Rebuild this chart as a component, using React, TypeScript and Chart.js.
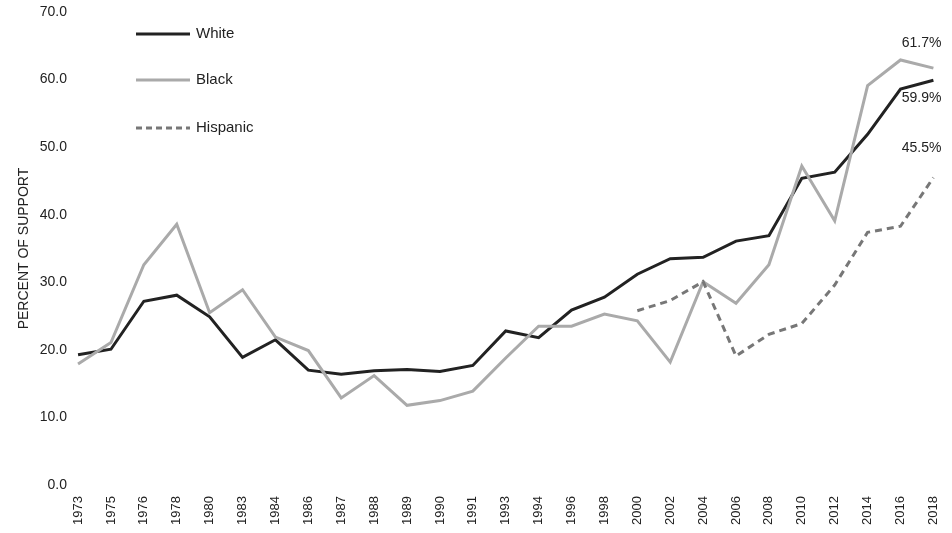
import React, { useEffect, useRef } from "react";
import { Chart, registerables } from "chart.js";
Chart.register(...registerables);

const years = ["1973","1975","1976","1978","1980","1983","1984","1986","1987","1988","1989","1990","1991","1993","1994","1996","1998","2000","2002","2004","2006","2008","2010","2012","2014","2016","2018"];
const white = [19.3,20.1,27.2,28.1,24.9,18.9,21.5,17.0,16.4,16.9,17.1,16.8,17.7,22.8,21.8,25.9,27.8,31.2,33.5,33.7,36.1,36.9,45.4,46.3,51.9,58.6,59.9];
const black = [17.9,21.1,32.6,38.6,25.5,28.9,21.9,19.9,12.9,16.2,11.8,12.5,13.9,18.8,23.5,23.5,25.3,24.3,18.2,30.1,26.9,32.6,47.2,39.1,59.1,62.9,61.7];
const hispanic = [null,null,null,null,null,null,null,null,null,null,null,null,null,null,null,null,null,25.8,27.3,30.1,19.1,22.3,23.9,29.6,37.4,38.3,45.5];
const endLabels = ["59.9%", "61.7%", "45.5%"];
const FONT = "'Liberation Sans', Arial, sans-serif";

export default function App() {
  const ref = useRef<HTMLCanvasElement>(null);
  useEffect(() => {
    const overlay = {
      id: "overlay",
      afterDraw(chart: any) {
        const ctx = chart.ctx;
        ctx.save();
        ctx.font = `15px ${FONT}`;
        ctx.fillStyle = "#222";
        ctx.textBaseline = "middle";
        const items = [
          { t: "White", c: "#222", d: [] as number[], y: 34 },
          { t: "Black", c: "#aaa", d: [] as number[], y: 80 },
          { t: "Hispanic", c: "#777", d: [6, 4], y: 128 },
        ];
        items.forEach((it) => {
          ctx.strokeStyle = it.c; ctx.lineWidth = 3; ctx.setLineDash(it.d);
          ctx.beginPath(); ctx.moveTo(136, it.y); ctx.lineTo(190, it.y); ctx.stroke();
          ctx.setLineDash([]);
          ctx.fillText(it.t, 196, it.y);
        });
        ctx.font = `14px ${FONT}`;
        ctx.textAlign = "right";
        const last = years.length - 1;
        const x = chart.scales.x.getPixelForValue(last) + 8;
        const ys = chart.scales.y;
        ctx.fillText(endLabels[0], x, ys.getPixelForValue(white[last]) + 18);
        ctx.fillText(endLabels[1], x, ys.getPixelForValue(black[last]) - 25);
        ctx.fillText(endLabels[2], x, ys.getPixelForValue(hispanic[last] as number) - 29);
        ctx.restore();
      },
    };
    const c = new Chart(ref.current!, {
      type: "line",
      data: {
        labels: years,
        datasets: [
          { label: "Hispanic", data: hispanic, borderColor: "#777", borderWidth: 3, borderDash: [7, 5], pointRadius: 0, tension: 0 },
          { label: "Black", data: black, borderColor: "#aaa", borderWidth: 3, pointRadius: 0, tension: 0 },
          { label: "White", data: white, borderColor: "#222", borderWidth: 3, pointRadius: 0, tension: 0 },
        ],
      },
      options: {
        animation: false,
        responsive: false,
        layout: { padding: { left: 12, right: 6, top: 12, bottom: 5 } },
        plugins: { legend: { display: false }, tooltip: { enabled: false } },
        scales: {
          x: {
            offset: false,
            grid: { display: false },
            border: { display: false },
            ticks: { color: "#222", font: { family: FONT, size: 13 }, maxRotation: 90, minRotation: 90, autoSkip: false },
          },
          y: {
            min: 0, max: 70,
            grid: { display: false },
            border: { display: false },
            ticks: { stepSize: 10, color: "#222", font: { family: FONT, size: 14 }, callback: (v: any) => Number(v).toFixed(1) },
            title: { display: true, text: "PERCENT OF SUPPORT", color: "#222", font: { family: FONT, size: 14 } },
          },
        },
      },
      plugins: [overlay],
    });
    return () => c.destroy();
  }, []);
  return (
    <div style={{ position: "fixed", left: 0, top: 0, width: 952, height: 533, background: "#fff" }}>
      <canvas ref={ref} width={952} height={533} style={{ width: 952, height: 533 }} />
    </div>
  );
}
